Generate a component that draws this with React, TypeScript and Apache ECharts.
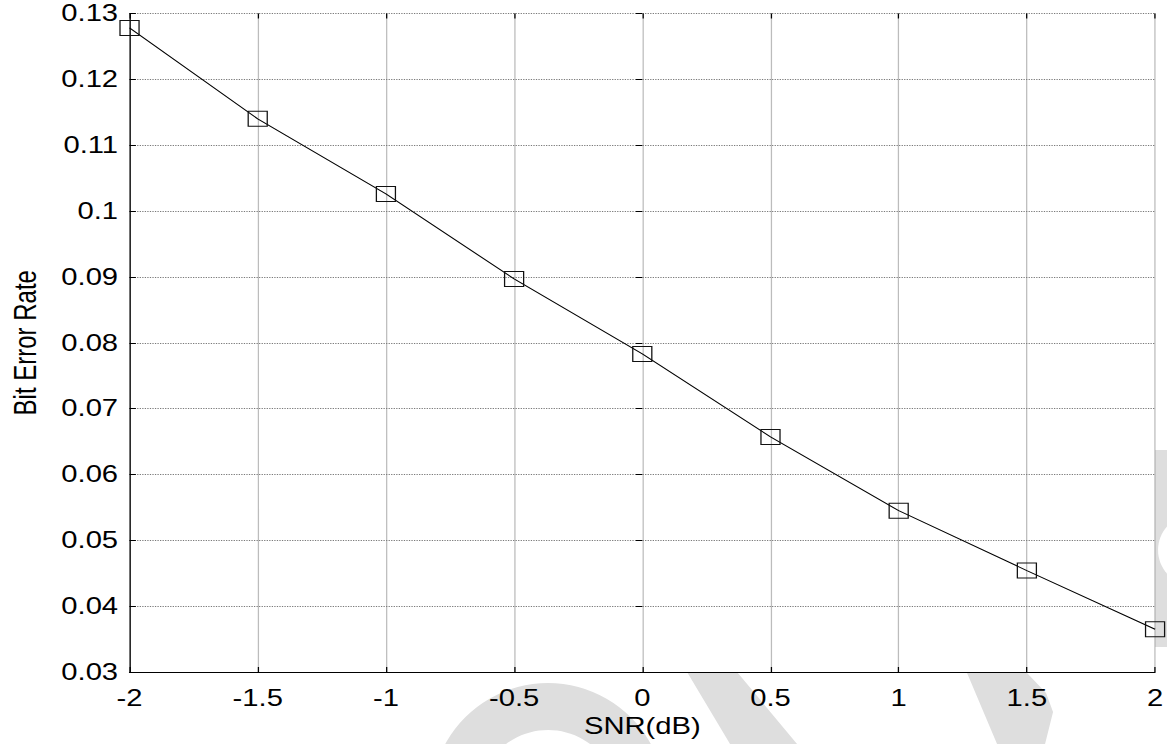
import React, { useEffect, useRef } from "react";
import * as echarts from "echarts";

// Data
const snrDb = [-2, -1.5, -1, -0.5, 0, 0.5, 1, 1.5, 2];
const bitErrorRate = [0.1278, 0.114, 0.1026, 0.0897, 0.0783, 0.0657, 0.0545, 0.0454, 0.0365];
const xAxisRange = { min: -2, max: 2, interval: 0.5 };
const yAxisRange = { min: 0.03, max: 0.13, interval: 0.01 };
const xAxisTitle = "SNR(dB)";
const yAxisTitle = "Bit Error Rate";

// The reference figure is horizontally stretched; render narrower and stretch.
const PAGE_W = 1167;
const PAGE_H = 744;
const STRETCH = 1.2698;
const INNER_W = Math.round(PAGE_W / STRETCH);
const ux = (x: number) => x / STRETCH;

const FONT = "'Liberation Sans', Arial, Helvetica, sans-serif";
const WM = "#dedede";

export default function App() {
  const ref = useRef<HTMLDivElement>(null);

  useEffect(() => {
    if (!ref.current) return;
    const chart = echarts.init(ref.current, undefined, { renderer: "svg" });

    const tickStyle = { show: true, inside: true, length: 5, lineStyle: { color: "#000", width: 1 } };
    const gridLine = { show: true, lineStyle: { color: "#7a7a7a", width: 1, type: [1, 1] as any } };

    const poly = (pts: number[][]) => pts.map(([x, y]) => [ux(x), y]);

    chart.setOption({
      animation: false,
      backgroundColor: "#fff",
      textStyle: { fontFamily: FONT },
      grid: {
        show: true,
        backgroundColor: "#fff",
        borderWidth: 0,
        left: ux(129.5),
        right: INNER_W - ux(1156),
        top: 13.5,
        bottom: 72,
        containLabel: false,
      },
      graphic: [
        { type: "ring", z: -10, x: ux(548), y: 800, scaleX: 1 / STRETCH, shape: { cx: 0, cy: 0, r: 117, r0: 70 }, style: { fill: WM } },
        { type: "polygon", z: -10, shape: { points: poly([[662, 630], [702, 630], [737, 672], [797, 744], [730, 744], [687, 672]]) }, style: { fill: WM } },
        { type: "polygon", z: -10, shape: { points: poly([[950, 630], [1000, 630], [1027, 673], [1046, 693], [1053, 712], [1045, 744], [997, 744], [967, 673]]) }, style: { fill: WM } },
        { type: "polygon", z: -10, shape: { points: poly([[1150, 450], [1167, 450], [1167, 647], [1150, 647]]) }, style: { fill: WM } },
        { type: "ellipse", z: -9, shape: { cx: ux(1190), cy: 550, rx: ux(32), ry: 34 }, style: { fill: "#fff" } },
      ],
      xAxis: [
        {
          type: "value",
          min: xAxisRange.min,
          max: xAxisRange.max,
          interval: xAxisRange.interval,
          position: "bottom",
          name: xAxisTitle,
          nameLocation: "middle",
          nameGap: 41,
          nameTextStyle: { color: "#000", fontSize: 23, fontFamily: FONT },
          axisLine: { show: true, onZero: false, lineStyle: { color: "#000", width: 1 } },
          axisTick: tickStyle,
          axisLabel: { color: "#000", fontSize: 23, fontFamily: FONT, margin: 15 },
          splitLine: gridLine,
        },
        {
          type: "value",
          min: xAxisRange.min,
          max: xAxisRange.max,
          interval: xAxisRange.interval,
          position: "top",
          axisLine: { show: false },
          axisTick: tickStyle,
          axisLabel: { show: false },
          splitLine: { show: false },
        },
      ],
      yAxis: [
        {
          type: "value",
          min: yAxisRange.min,
          max: yAxisRange.max,
          interval: yAxisRange.interval,
          position: "left",
          name: yAxisTitle,
          nameLocation: "middle",
          nameGap: 70,
          nameTextStyle: { color: "#000", fontSize: 24, fontFamily: FONT },
          axisLine: { show: true, onZero: false, lineStyle: { color: "#000", width: 1 } },
          axisTick: tickStyle,
          axisLabel: { color: "#000", fontSize: 23, fontFamily: FONT, margin: 9 },
          splitLine: gridLine,
        },
        {
          type: "value",
          min: yAxisRange.min,
          max: yAxisRange.max,
          interval: yAxisRange.interval,
          position: "right",
          axisLine: { show: false },
          axisTick: tickStyle,
          axisLabel: { show: false },
          splitLine: { show: false },
        },
      ],
      series: [
        {
          type: "line",
          xAxisIndex: 0,
          yAxisIndex: 0,
          data: snrDb.map((x, i) => [x, bitErrorRate[i]]),
          symbol: "rect",
          symbolSize: 15,
          showAllSymbol: true,
          lineStyle: { color: "#000", width: 1 },
          itemStyle: { color: "rgba(0,0,0,0)", borderColor: "#111", borderWidth: 1 },
          emphasis: { disabled: true },
          z: 3,
        },
      ],
    });

    return () => chart.dispose();
  }, []);

  return (
    <div
      ref={ref}
      style={{
        position: "absolute",
        left: 0,
        top: 0,
        width: INNER_W,
        height: PAGE_H,
        transform: `scaleX(${PAGE_W / INNER_W})`,
        transformOrigin: "0 0",
      }}
    />
  );
}
